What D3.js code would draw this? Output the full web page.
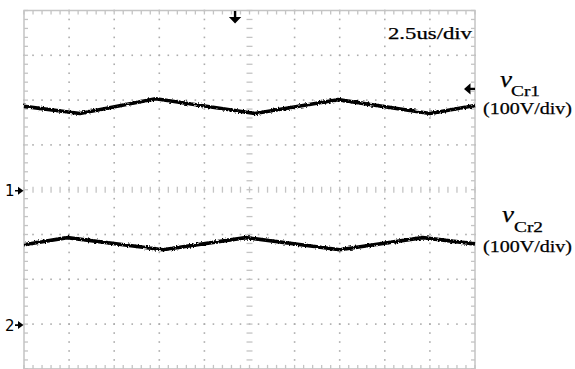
<!DOCTYPE html>
<html lang="en">

<head>
    <title></title>
    <meta charset="UTF-8">
    <script src="https://cdn.jsdelivr.net/npm/d3@7"></script>
    <style>
        body {
            margin: 0;
            background: #fff;
        }

        svg {
            display: block;
        }

        .lbl {
            font-family: "Liberation Serif", "Times New Roman", Times, serif;
            fill: #000;
            stroke: #000;
            stroke-width: 0.25px;
        }

        .mk {
            font-family: "DejaVu Sans", Arial, sans-serif;
            font-size: 15px;
            fill: #000;
        }
    </style>
</head>

<body>
    <div id="wrap"></div>
    <script>
        //数据 (time in us, voltage in V)
        var ch1Time = [0, 3.1, 7.3, 12.8, 17.4, 22.5, 25];
        var ch1Volt = [186, 170, 203, 170, 201, 170, 188];
        var ch2Time = [0, 2.4, 7.7, 12.3, 17.5, 22.1, 25];
        var ch2Volt = [177, 193, 166, 193, 166, 193, 179];
        var chOffsetDiv = [0, -3]; // ground markers 1 and 2
        var chNames = ['Cr1', 'Cr2'];
        var voltPerDiv = 100;
        var timeLabel = '2.5us/div';
        var scaleLabel = '(100V/div)';
        var triggerTime = 11.7;
        var triggerLevel = 225;

        //常量
        var WIDTH = 575,
            HEIGHT = 369,
            LEFT = 24,
            RIGHT = 475,
            TOP = 10.5,
            BOTTOM = 368.9,
            GRIDCOLOR = '#acacac',
            BORDERCOLOR = '#c4c4c4';

        var svg = d3.select('#wrap').append('svg').attr('width', WIDTH).attr('height', HEIGHT);

        var x = d3.scaleLinear().domain([0, 25]).range([LEFT, RIGHT]);
        var y = d3.scaleLinear().domain([-4, 4]).range([BOTTOM, TOP]);

        //轨迹的毛糙效果
        var filt = svg.append('defs').append('filter').attr('id', 'rough')
            .attr('x', '-5%').attr('y', '-50%').attr('width', '110%').attr('height', '200%');
        filt.append('feTurbulence').attr('type', 'fractalNoise').attr('baseFrequency', '0.6')
            .attr('numOctaves', 1).attr('seed', 3).attr('result', 'n');
        filt.append('feDisplacementMap').attr('in', 'SourceGraphic').attr('in2', 'n')
            .attr('scale', 3.5).attr('xChannelSelector', 'R').attr('yChannelSelector', 'G');

        var grid = svg.append('g').attr('class', 'grid');
        var majorX = d3.range(0, 25.01, 2.5),
            majorY = d3.range(-4, 4.01, 1),
            minorX = d3.range(0, 25.01, 0.5),
            minorY = d3.range(-4, 4.01, 0.2);

        //网格点
        majorX.slice(1, -1).forEach(function(t) {
            if (t === 12.5) return;
            minorY.forEach(function(v) {
                grid.append('rect').attr('x', x(t) - 0.8).attr('y', y(v) - 0.8)
                    .attr('width', 1.6).attr('height', 1.6).attr('fill', GRIDCOLOR);
            });
        });
        majorY.slice(1, -1).forEach(function(v) {
            if (v === 0) return;
            minorX.forEach(function(t) {
                grid.append('rect').attr('x', x(t) - 0.8).attr('y', y(v) - 0.8)
                    .attr('width', 1.6).attr('height', 1.6).attr('fill', GRIDCOLOR);
            });
        });

        //中心刻度
        minorY.forEach(function(v) {
            grid.append('line').attr('x1', x(12.5) - 3).attr('x2', x(12.5) + 3)
                .attr('y1', y(v)).attr('y2', y(v)).attr('stroke', BORDERCOLOR).attr('stroke-width', 1.3);
        });
        minorX.forEach(function(t) {
            grid.append('line').attr('x1', x(t)).attr('x2', x(t))
                .attr('y1', y(0) - 3).attr('y2', y(0) + 3).attr('stroke', BORDERCOLOR).attr('stroke-width', 1.3);
        });

        //边框及刻度
        grid.append('rect').attr('x', LEFT).attr('y', TOP).attr('width', RIGHT - LEFT).attr('height', BOTTOM - TOP)
            .attr('fill', 'none').attr('stroke', BORDERCOLOR).attr('stroke-width', 1.5);
        minorY.forEach(function(v) {
            grid.append('line').attr('x1', LEFT).attr('x2', LEFT + 4).attr('y1', y(v)).attr('y2', y(v))
                .attr('stroke', BORDERCOLOR).attr('stroke-width', 1.3);
            grid.append('line').attr('x1', RIGHT - 4).attr('x2', RIGHT).attr('y1', y(v)).attr('y2', y(v))
                .attr('stroke', BORDERCOLOR).attr('stroke-width', 1.3);
        });
        minorX.forEach(function(t) {
            grid.append('line').attr('x1', x(t)).attr('x2', x(t)).attr('y1', TOP).attr('y2', TOP + 4)
                .attr('stroke', BORDERCOLOR).attr('stroke-width', 1.3);
            grid.append('line').attr('x1', x(t)).attr('x2', x(t)).attr('y1', BOTTOM - 4).attr('y2', BOTTOM)
                .attr('stroke', BORDERCOLOR).attr('stroke-width', 1.3);
        });

        //波形
        var series = [{ t: ch1Time, v: ch1Volt, off: chOffsetDiv[0] }, { t: ch2Time, v: ch2Volt, off: chOffsetDiv[1] }];
        var line = d3.line()
            .x(function(d) { return x(d[0]); })
            .y(function(d) { return d[1]; });
        series.forEach(function(s) {
            var pts = s.t.map(function(t, i) { return [t, y(s.off + s.v[i] / voltPerDiv)]; });
            svg.append('path').attr('d', line(pts)).attr('fill', 'none')
                .attr('stroke', '#000').attr('stroke-width', 3.6).attr('stroke-linejoin', 'round')
                .attr('filter', 'url(#rough)');
        });

        //通道标记
        chOffsetDiv.forEach(function(off, i) {
            var yy = y(off) + 1;
            svg.append('text').attr('class', 'mk').attr('x', 5).attr('y', yy + 5.5).text(i + 1);
            svg.append('path').attr('d', 'M15,' + (yy - 0.8) + 'h3v-3.2l5.5,4l-5.5,4v-3.2h-3z').attr('fill', '#000');
        });

        //触发标记
        var tx = x(triggerTime);
        svg.append('path').attr('d', 'M' + (tx - 1.2) + ',11v6h-5l6.2,6.5l6.2,-6.5h-5v-6z').attr('fill', '#000');
        var ty = y(chOffsetDiv[0] + triggerLevel / voltPerDiv);
        svg.append('path').attr('d', 'M475,' + (ty - 1.2) + 'h-4.5v-4.5l-6.5,5.7l6.5,5.7v-4.5h4.5z').attr('fill', '#000');

        //文字
        svg.append('text').attr('class', 'lbl').attr('x', 388).attr('y', 39)
            .attr('font-size', 16).attr('textLength', 84).attr('lengthAdjust', 'spacingAndGlyphs').text(timeLabel);

        var labelPos = [{ vx: 500, vy: 87, sx: 511, sy: 96, py: 114 }, { vx: 502, vy: 222, sx: 514, sy: 232, py: 252 }];
        labelPos.forEach(function(p, i) {
            svg.append('text').attr('class', 'lbl').attr('x', p.vx).attr('y', p.vy)
                .attr('font-size', 23).attr('font-style', 'italic')
                .attr('textLength', 12).attr('lengthAdjust', 'spacingAndGlyphs').text('v');
            svg.append('text').attr('class', 'lbl').attr('x', p.sx).attr('y', p.sy)
                .attr('font-size', 15).attr('textLength', 29).attr('lengthAdjust', 'spacingAndGlyphs').text(chNames[i]);
            svg.append('text').attr('class', 'lbl').attr('x', 483).attr('y', p.py)
                .attr('font-size', 17).attr('textLength', 89).attr('lengthAdjust', 'spacingAndGlyphs').text(scaleLabel);
        });
    </script>

</body>

</html>
